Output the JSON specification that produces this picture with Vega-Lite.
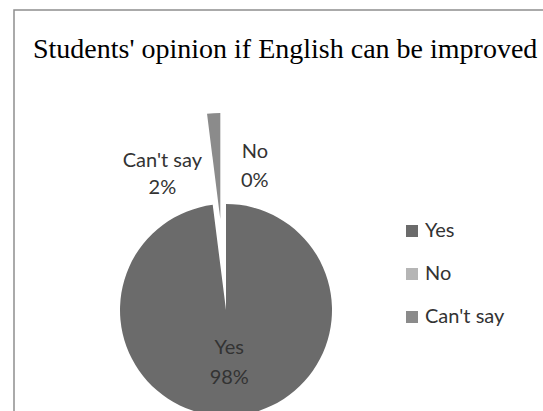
{
  "$schema": "https://vega.github.io/schema/vega-lite/v6.json",
  "autosize": {"type": "none"},
  "width": 529,
  "height": 401,
  "padding": {"left": 14, "top": 10, "right": 0, "bottom": 0},
  "background": "white",
  "view": {"stroke": "#8f8f8f", "strokeWidth": 1.5, "strokeDash": [529, 930, 401], "fill": "white"},
  "config": {
    "font": "Lato"
  },
  "title": {
    "text": "Students' opinion if English can be improved",
    "font": "Liberation Serif",
    "fontSize": 28,
    "fontWeight": "normal",
    "color": "#000000",
    "anchor": "start",
    "frame": "group",
    "baseline": "alphabetic",
    "offset": 0,
    "dx": 19,
    "dy": 76
  },
  "data": {
    "values": [
      {"answer": "Yes", "value": 98, "rank": 1, "label": "Yes\n98%"},
      {"answer": "No", "value": 0, "rank": 2, "label": "No\n0%"},
      {"answer": "Can't say", "value": 2, "rank": 3, "label": "Can't say\n2%"}
    ]
  },
  "encoding": {
    "theta": {"field": "value", "type": "quantitative", "stack": true},
    "order": {"field": "rank", "type": "quantitative"},
    "color": {
      "field": "answer",
      "type": "nominal",
      "scale": {"domain": ["Yes", "No", "Can't say"], "range": ["#6b6b6b", "#b5b5b5", "#8b8b8b"]},
      "legend": {
        "title": null,
        "orient": "none",
        "legendX": 388,
        "legendY": 211,
        "padding": 0,
        "symbolType": "square",
        "symbolSize": 144,
        "symbolStrokeWidth": 0,
        "symbolOpacity": 1,
        "labelFont": "Lato",
        "labelFontSize": 20,
        "labelColor": "#333333",
        "labelOffset": 3,
        "rowPadding": 23
      }
    }
  },
  "layer": [
    {
      "mark": {"type": "arc", "outerRadius": 106, "xOffset": -52.5, "yOffset": 99.5},
      "encoding": {
        "opacity": {"condition": {"test": "datum.answer === \"Can't say\"", "value": 0}, "value": 1}
      }
    },
    {
      "mark": {"type": "arc", "outerRadius": 106, "xOffset": -58.2, "yOffset": 8.5},
      "encoding": {
        "opacity": {"condition": {"test": "datum.answer === \"Can't say\"", "value": 1}, "value": 0}
      }
    },
    {
      "mark": {"type": "text", "radius": 52, "xOffset": -52.5, "yOffset": 99.5, "dy": -14, "lineBreak": "\n", "lineHeight": 30, "fontSize": 20, "font": "Lato", "color": "#333333"},
      "encoding": {
        "text": {"field": "label"},
        "color": {"value": "#333333"},
        "opacity": {"condition": {"test": "datum.answer === 'Yes'", "value": 1}, "value": 0}
      }
    },
    {
      "mark": {"type": "text", "radius": 137, "xOffset": -52.5, "yOffset": 99.5, "dx": -55, "dy": -12, "lineBreak": "\n", "lineHeight": 27, "fontSize": 20, "font": "Lato", "color": "#333333"},
      "encoding": {
        "text": {"field": "label"},
        "color": {"value": "#333333"},
        "opacity": {"condition": {"test": "datum.answer === \"Can't say\"", "value": 1}, "value": 0}
      }
    },
    {
      "mark": {"type": "text", "radius": 145, "xOffset": -52.5, "yOffset": 99.5, "dx": 47, "dy": -14, "lineBreak": "\n", "lineHeight": 29, "fontSize": 20, "font": "Lato", "color": "#333333"},
      "encoding": {
        "text": {"field": "label"},
        "color": {"value": "#333333"},
        "opacity": {"condition": {"test": "datum.answer === 'No'", "value": 1}, "value": 0}
      }
    }
  ]
}
